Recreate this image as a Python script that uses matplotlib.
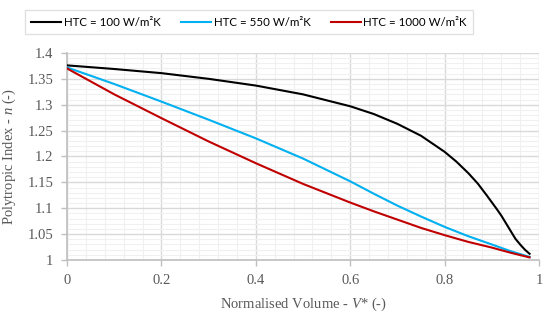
import matplotlib
import matplotlib.pyplot as plt
from matplotlib.ticker import MultipleLocator, FuncFormatter

matplotlib.use("Agg")

# values
v_100 = [0.0, 0.1, 0.2, 0.3, 0.4, 0.5, 0.6, 0.65, 0.7, 0.75, 0.8, 0.825, 0.85, 0.87,
         0.89, 0.91, 0.92, 0.93, 0.94, 0.95, 0.96, 0.97, 0.98]
n_100 = [1.376, 1.369, 1.361, 1.350, 1.337, 1.320, 1.297, 1.282, 1.263, 1.240, 1.209, 1.190, 1.168, 1.148,
         1.124, 1.099, 1.086, 1.071, 1.056, 1.041, 1.030, 1.020, 1.012]

v_550 = [0.0, 0.1, 0.2, 0.3, 0.4, 0.5, 0.6, 0.65, 0.7, 0.75, 0.8, 0.85, 0.9, 0.94, 0.98]
n_550 = [1.372, 1.340, 1.306, 1.271, 1.235, 1.196, 1.152, 1.128, 1.105, 1.084, 1.064, 1.046, 1.030, 1.017, 1.006]

v_1000 = [0.0, 0.1, 0.2, 0.3, 0.4, 0.5, 0.6, 0.65, 0.7, 0.75, 0.8, 0.85, 0.9, 0.94, 0.98]
n_1000 = [1.370, 1.320, 1.274, 1.229, 1.187, 1.147, 1.111, 1.094, 1.078, 1.062, 1.048, 1.035, 1.024, 1.014, 1.005]

labels = ["HTC = 100 W/m²K", "HTC = 550 W/m²K", "HTC = 1000 W/m²K"]
colors = ["#000000", "#00b0f0", "#c00000"]

plt.rcParams["mathtext.fontset"] = "custom"
plt.rcParams["mathtext.rm"] = "Liberation Serif"
plt.rcParams["mathtext.it"] = "Liberation Serif:italic"

fig = plt.figure(figsize=(5.5, 3.2), dpi=100)
ax = fig.add_axes([0.122, 0.1875, 0.858, 0.647])

for v, n, lab, col in zip([v_100, v_550, v_1000], [n_100, n_550, n_1000], labels, colors):
    ax.plot(v, n, color=col, lw=1.5, label=lab, zorder=3, solid_joinstyle="round")

ax.set_xlim(0, 1)
ax.set_ylim(1, 1.4)
ax.xaxis.set_major_locator(MultipleLocator(0.2))
ax.xaxis.set_minor_locator(MultipleLocator(0.04))
ax.yaxis.set_major_locator(MultipleLocator(0.05))
ax.yaxis.set_minor_locator(MultipleLocator(0.01))
fmt = FuncFormatter(lambda val, pos: f"{val:g}")
ax.xaxis.set_major_formatter(fmt)
ax.yaxis.set_major_formatter(fmt)

ax.grid(which="major", color="#d9d9d9", lw=1.0, zorder=1)
ax.grid(which="minor", color="#f0f0f0", lw=0.8, zorder=0)
ax.set_axisbelow(True)

for s in ["top", "right"]:
    ax.spines[s].set_visible(False)
for s in ["left", "bottom"]:
    ax.spines[s].set_color("#bfbfbf")
    ax.spines[s].set_linewidth(1.2)

ax.tick_params(which="major", length=4, width=1, color="#bfbfbf",
               labelcolor="#595959", labelsize=10.5, pad=6)
ax.tick_params(which="minor", length=0)
for t in ax.get_xticklabels() + ax.get_yticklabels():
    t.set_fontfamily("Liberation Serif")

ax.set_xlabel("Normalised Volume - $V$* (-)", family="Liberation Serif",
              fontsize=10.5, color="#595959", labelpad=6)
ax.set_ylabel("Polytropic Index - $n$ (-)", family="Liberation Serif",
              fontsize=10.5, color="#595959", labelpad=7)

leg = fig.legend(loc="center", bbox_to_anchor=(0.453, 0.931), ncol=3,
                 frameon=True, fancybox=False, edgecolor="#d9d9d9",
                 prop={"family": "Lato", "size": 8.3}, handlelength=2.6,
                 handletextpad=0.2, columnspacing=1.8, borderpad=0.55)
leg.get_frame().set_linewidth(1.0)

fig.savefig("out.png", dpi=100)
plt.close(fig)
